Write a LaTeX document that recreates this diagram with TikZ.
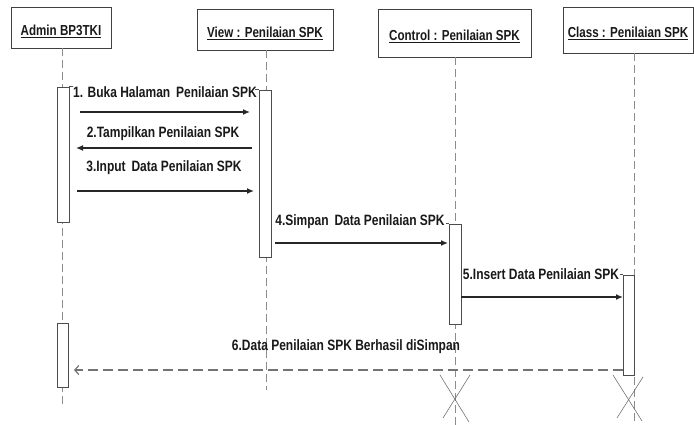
\documentclass[tikz,border=0pt]{standalone}
\usepackage{fontspec}
\setmainfont{Liberation Sans}[FakeStretch=0.8]
\usetikzlibrary{arrows.meta,calc}

\tikzset{
  obj/.style={draw=black!75, line width=0.9pt, minimum height=41pt, inner sep=2pt,
    text height=19pt, text depth=3pt, font=\fontsize{14.5}{16}\selectfont\bfseries, text=black!90},
  life/.style={draw=black!45, dash pattern=on 8pt off 4pt, line width=0.8pt},
  act/.style={draw=black!70, fill=white, line width=0.9pt, minimum width=12pt, inner sep=0pt},
  msg/.style={draw=black!85, line width=1.3pt, -{Latex[length=7pt,width=6pt]}},
  ret/.style={draw=black!55, line width=1.2pt, dash pattern=on 10pt off 5pt, -{Straight Barb[length=4pt,width=9pt]}},
  lbl/.style={font=\fontsize{15}{17}\selectfont\bfseries, text=black!90, inner sep=1pt},
  kill/.style={draw=black!55, line width=0.6pt}
}

\begin{document}
\begin{tikzpicture}[x=1pt,y=-1pt]
  \useasboundingbox (0,0) rectangle (694,425);

  % objects
  \node[obj, minimum width=100pt] (adm) at (61,27.5) {\underline{Admin BP3TKI}};
  \node[obj, minimum width=136pt] (view) at (265,29.5) {\underline{View : Penilaian SPK}};
  \node[obj, minimum width=153pt, minimum height=48pt] (ctrl) at (454.5,33) {\underline{Control : Penilaian SPK}};
  \node[obj, minimum width=130pt, minimum height=46pt] (cls) at (628,30) {\underline{Class : Penilaian SPK}};

  % lifelines
  \coordinate (admend) at (62,407);
  \coordinate (viewend) at (266,390);
  \coordinate (ctrlend) at (455,425);
  \coordinate (clsend) at (634,425);
  \draw[life] (adm.south -| admend) -- (admend);
  \draw[life] (view.south -| viewend) -- (viewend);
  \draw[life] (ctrl.south -| ctrlend) -- (ctrlend);
  \draw[life] (cls.south -| clsend) -- (clsend);

  % activations
  \node[act, minimum height=135pt] (adm1) at (63,154.5) {};
  \node[act, minimum height=167pt] (view1) at (265.5,173.5) {};
  \node[act, minimum height=100pt] (ctrl1) at (455,274) {};
  \node[act, minimum height=100pt, minimum width=11pt] (cls1) at (628.5,325) {};
  \node[act, minimum height=64pt, minimum width=11pt] (adm2) at (62.5,355) {};
  \draw[draw=black!70, line width=0.9pt] (adm1.north east) -- ++(4,0);
  \draw[draw=black!70, line width=0.9pt] (view1.north west) -- ++(-4,0);
  \draw[draw=black!70, line width=0.9pt] (ctrl1.north west) -- ++(-3,0);
  \draw[draw=black!70, line width=0.9pt] (cls1.north west) -- ++(-3,0);

  % messages
  \coordinate (m1a) at (80,112);   \coordinate (m1b) at (250,112);
  \coordinate (m2a) at (252,148);  \coordinate (m2b) at (76,148);
  \coordinate (m3a) at (77,191);   \coordinate (m3b) at (254,191);
  \coordinate (m4a) at (275,243);  \coordinate (m4b) at (448,243);
  \coordinate (m5a) at (461,297);  \coordinate (m5b) at (623,297);
  \coordinate (m6a) at (623,370);  \coordinate (m6b) at (74,370);
  \draw[msg] (m1a) -- (m1b);
  \draw[msg] (m2a) -- (m2b);
  \draw[msg] (m3a) -- (m3b);
  \draw[msg] (m4a) -- (m4b);
  \draw[msg] (m5a) -- (m5b);
  \draw[ret] (m6a) -- (m6b);

  \node[lbl] (l1) at (165,92) {1. Buka Halaman\, Penilaian SPK};
  \node[lbl] (l2) at (163,134) {2.Tampilkan Penilaian SPK};
  \node[lbl] (l3) at (164,168) {3.Input\, Data Penilaian SPK};
  \node[lbl] (l4) at (360,222) {4.Simpan\, Data Penilaian SPK};
  \node[lbl] (l5) at (541,274) {5.Insert Data Penilaian SPK};
  \node[lbl] (l6) at (346,347) {6.Data Penilaian SPK Berhasil diSimpan};

  % destroy marks
  \draw[kill] (440,375) -- (469,422);
  \draw[kill] (470,375) -- (443,418);
  \draw[kill] (613,375) -- (642,421);
  \draw[kill] (643,377) -- (617,418);
\end{tikzpicture}
\end{document}
